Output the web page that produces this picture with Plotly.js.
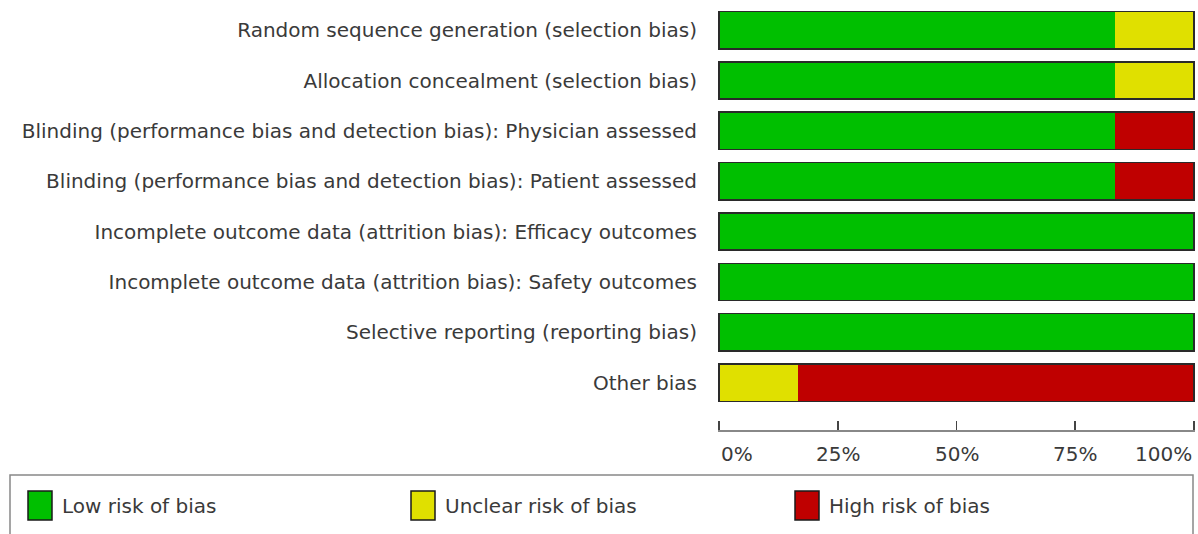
<!DOCTYPE html>
<html><head><meta charset="utf-8">
<script src="https://cdn.plot.ly/plotly-3.0.1.min.js"></script>
<style>html,body{margin:0;padding:0;background:#fff}#chart{width:1198px;height:534px}</style>
</head><body><div id="chart"></div>
<script>
// Data (percent of studies)
const domains = [
  "Random sequence generation (selection bias)",
  "Allocation concealment (selection bias)",
  "Blinding (performance bias and detection bias): Physician assessed",
  "Blinding (performance bias and detection bias): Patient assessed",
  "Incomplete outcome data (attrition bias): Efficacy outcomes",
  "Incomplete outcome data (attrition bias): Safety outcomes",
  "Selective reporting (reporting bias)",
  "Other bias"
];
const lowRisk     = [83.3, 83.3, 83.3, 83.3, 100, 100, 100, 0];
const unclearRisk = [16.7, 16.7, 0, 0, 0, 0, 0, 16.7];
const highRisk    = [0, 0, 16.7, 16.7, 0, 0, 0, 83.3];
const tickVals = [0, 25, 50, 75, 100];
const tickText = ["0%", "25%", "50%", "75%", "100%"];
const legendNames = ["Low risk of bias", "Unclear risk of bias", "High risk of bias"];

const colors = {low: "#00BF00", unclear: "#E0E000", high: "#BF0000"};
const W = 1198, H = 534, L = 718, R = 1195, T = 5, B = 430;
const FONT = "DejaVu Sans, Verdana, sans-serif";
const FS = 20;
const TXT = "#3a3a3a";

const totals = domains.map((d, i) => lowRisk[i] + unclearRisk[i] + highRisk[i]);
const mk = (name, x, c) => ({
  type: "bar", orientation: "h", name: name, x: x, y: domains,
  marker: {color: c, line: {width: 0}}, hoverinfo: "name+x", showlegend: false
});
const traces = [
  mk(legendNames[0], lowRisk, colors.low),
  mk(legendNames[1], unclearRisk, colors.unclear),
  mk(legendNames[2], highRisk, colors.high),
  {type: "bar", orientation: "h", x: totals, y: domains, yaxis: "y2", xaxis: "x",
   marker: {color: "rgba(0,0,0,0)", line: {color: "#2a2a2a", width: 1.6}},
   hoverinfo: "skip", showlegend: false}
];

const px2x = px => (px - L) / (R - L);
const py2y = py => (B - py) / (B - T);

const shapes = [
  {type: "rect", xref: "paper", yref: "paper", x0: px2x(10), x1: px2x(1193), y0: py2y(475), y1: py2y(545),
   line: {color: "#888", width: 1.5}, fillcolor: "rgba(0,0,0,0)"}
];
const annotations = [];
const legX = [28, 411, 795];
const legColors = [colors.low, colors.unclear, colors.high];
legendNames.forEach((n, i) => {
  shapes.push({type: "rect", xref: "paper", yref: "paper",
    x0: px2x(legX[i]), x1: px2x(legX[i] + 24), y0: py2y(520), y1: py2y(491),
    fillcolor: legColors[i], line: {color: "#1a1a1a", width: 1.5}});
  annotations.push({xref: "paper", yref: "paper", x: px2x(legX[i] + 32), y: py2y(506),
    xanchor: "left", yanchor: "middle", text: n, showarrow: false,
    font: {family: FONT, size: FS, color: TXT}});
});
tickVals.forEach((v, i) => {
  annotations.push({xref: "x", yref: "paper", x: v, y: py2y(440),
    xanchor: i === 0 ? "left" : (i === tickVals.length - 1 ? "right" : "center"),
    yanchor: "top", text: tickText[i], showarrow: false,
    font: {family: FONT, size: FS, color: TXT}});
});

const yrange = [7.94, -0.5];
const layout = {
  width: W, height: H,
  margin: {l: L, r: W - R, t: T, b: H - B, pad: 0},
  paper_bgcolor: "#fff", plot_bgcolor: "#fff",
  barmode: "stack", bargap: 0.26,
  font: {family: FONT, size: FS, color: TXT},
  xaxis: {range: [-0.25, 100.25], tickvals: tickVals, showticklabels: false,
    ticks: "inside", ticklen: 9, tickwidth: 1.5, tickcolor: "#444",
    showline: true, linecolor: "#888", linewidth: 1.5, showgrid: false, zeroline: false, fixedrange: true},
  yaxis: {type: "category", range: yrange, showgrid: false, zeroline: false, showline: false,
    ticks: "", ticklabelstandoff: 20, tickfont: {family: FONT, size: FS, color: TXT}, fixedrange: true},
  yaxis2: {type: "category", overlaying: "y", range: yrange, showticklabels: false,
    showgrid: false, zeroline: false, showline: false, ticks: "", fixedrange: true},
  shapes: shapes, annotations: annotations, showlegend: false
};
Plotly.newPlot("chart", traces, layout, {displayModeBar: false, staticPlot: true});
</script></body></html>
